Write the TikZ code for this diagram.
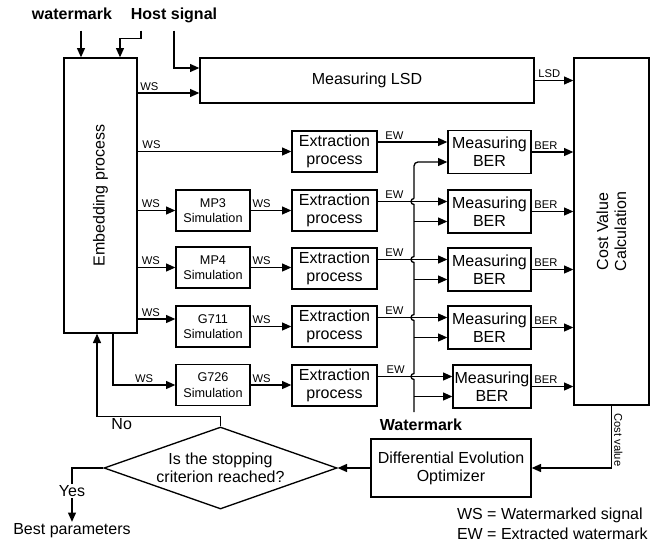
\documentclass[tikz,border=0pt]{standalone}
\usepackage{fontspec}
\setmainfont{Liberation Sans}
\usetikzlibrary{arrows.meta,shapes.geometric}

\tikzset{
	box/.style={draw, line width=1pt, align=center, inner sep=1pt, font=\fontsize{12}{13.5}\selectfont},
	simbox/.style={box, minimum width=55.5pt, minimum height=30.75pt, font=\fontsize{9.5}{11.5}\selectfont},
	extbox/.style={box, minimum width=63.75pt, minimum height=30.75pt},
	berbox/.style={box, minimum width=62.25pt, minimum height=32.25pt},
	lbl/.style={font=\fontsize{8.4}{9}\selectfont, inner sep=1.5pt},
	txt/.style={font=\fontsize{12}{13.5}\selectfont, inner sep=1pt},
	title/.style={font=\bfseries\fontsize{12}{14}\selectfont, inner sep=0pt, text depth=8.25pt}
}

\begin{document}
\begin{tikzpicture}[x=0.75pt, y=-0.75pt, line width=1pt, >={Triangle[length=7pt,width=6pt]}]
	\useasboundingbox (0,0) rectangle (665,544);

	\node[title, anchor=base] (wm) at (72,19) {watermark};
	\node[title, anchor=base] (host) at (174,19) {Host signal};

	\node[box, minimum width=54.75pt, minimum height=206.25pt, label={[rotate=90, txt]center:Embedding process}] (emb) at (100.5,195.5) {};
	\node[box, minimum width=250.5pt, minimum height=33.75pt] (lsd) at (367,80.5) {Measuring LSD};
	\node[box, minimum width=56.25pt, minimum height=260.25pt, label={[rotate=90, txt, align=center]center:{Cost Value\\Calculation}}] (cost) at (611.5,231.5) {};

	\node[extbox] (ext1) at (334.5,151.5) {Extraction\\process};
	\node[berbox] (ber1) at (489.5,152) {Measuring\\BER};

	\node[simbox] (sim2) at (213,210.5) {MP3\\Simulation};
	\node[extbox] (ext2) at (334.5,210.5) {Extraction\\process};
	\node[berbox] (ber2) at (489.5,211.5) {Measuring\\BER};

	\node[simbox] (sim3) at (213,267.5) {MP4\\Simulation};
	\node[extbox] (ext3) at (334.5,268.5) {Extraction\\process};
	\node[berbox] (ber3) at (489.5,269.5) {Measuring\\BER};

	\node[simbox] (sim4) at (213,326.5) {G711\\Simulation};
	\node[extbox] (ext4) at (334.5,326.5) {Extraction\\process};
	\node[berbox] (ber4) at (489.5,327.5) {Measuring\\BER};

	\node[simbox] (sim5) at (213,385) {G726\\Simulation};
	\node[extbox] (ext5) at (334.5,385.5) {Extraction\\process};
	\node[berbox, minimum width=58.5pt] (ber5) at (492,386.5) {Measuring\\BER};

	\node[title, text depth=0pt, anchor=base] (wmk) at (421,430) {Watermark};
	\node[box, minimum width=120pt, minimum height=43.5pt] (de) at (451,468) {Differential Evolution\\Optimizer};
	\node[draw, diamond, aspect=2.84, inner sep=0pt, minimum width=174.75pt, minimum height=61.5pt, align=center, font=\fontsize{12}{13.5}\selectfont] (stop) at (220.5,468) {Is the stopping\\criterion reached?};
	\node[txt] (best) at (72,531) {Best parameters};
	\node[txt, anchor=west, align=left, font=\fontsize{12}{15}\selectfont] (legend) at (455,524) {WS = Watermarked signal\\EW = Extracted watermark};

	\coordinate (lsdws) at ([yshift=-9.375pt]lsd.west);
	\coordinate (sim4in) at ([yshift=5.625pt]sim4.west);
	\coordinate (bus) at (414,412);
	\foreach \i in {1,...,5} {
		\coordinate (in\i) at ([yshift=7.5pt]ber\i.west);
		\coordinate (lo\i) at ([yshift=-7.5pt]ber\i.west);
		\coordinate (h\i) at (bus |- in\i);
	}

	\draw[->] ([xshift=6.75pt]wm.south) -- ([xshift=-14.625pt]emb.north);
	\draw[->] ([xshift=-24.75pt]host.south) -- ++(0,8) -| ([xshift=14.625pt]emb.north);
	\draw[->] (host.south) |- ([yshift=9.375pt]lsd.west);

	\draw[->] (emb.east |- lsdws) -- node[lbl, above, pos=0.19] {WS} (lsdws);
	\draw[->] (emb.east |- ext1.west) -- node[lbl, above, pos=0.09] {WS} (ext1.west);
	\draw[->] (emb.east |- sim2.west) -- node[lbl, above, pos=0.35] {WS} (sim2.west);
	\draw[->] (emb.east |- sim3.west) -- node[lbl, above, pos=0.35] {WS} (sim3.west);
	\draw[->] (emb.east |- sim4in) -- node[lbl, above, pos=0.35] {WS} (sim4in);
	\draw[->] ([xshift=9.375pt]emb.south) |- node[lbl, above, pos=0.75] {WS} (sim5.west);

	\foreach \i in {2,...,5}
		\draw[->] (sim\i.east) -- node[lbl, above, pos=0.27] {WS} (sim\i.east -| ext\i.west);

	\foreach \i in {1,...,5} {
		\draw[->] (ext\i.east |- in\i) -- node[lbl, above, pos=0.24] {EW} (in\i);
		\draw[->] (ber\i.east) -- node[lbl, above, pos=0.34] {BER} (ber\i.east -| cost.west);
	}
	\draw[->] (lsd.east) -- node[lbl, above, pos=0.38] {LSD} (lsd.east -| cost.west);

	\draw (bus) -- ([yshift=-2.25pt]h5) arc[start angle=270, end angle=90, radius=2.25pt]
		-- ([yshift=-2.25pt]h4) arc[start angle=270, end angle=90, radius=2.25pt]
		-- ([yshift=-2.25pt]h3) arc[start angle=270, end angle=90, radius=2.25pt]
		-- ([yshift=-2.25pt]h2) arc[start angle=270, end angle=90, radius=2.25pt];
	\draw[->, rounded corners=3pt] ([yshift=2.25pt]h2) |- (lo1);
	\foreach \i in {2,...,5}
		\draw[->] (bus |- lo\i) -- (lo\i);

	\draw[->] (cost.south) |- node[lbl, rotate=-90, anchor=south, pos=0.275] {Cost value} (de.east);
	\draw[->] (de.west) -- (stop.east);
	\draw[->] (stop.north) -- ++(0,-10) -| node[txt, below, pos=0.4] {No} ([xshift=-2.625pt]emb.south);
	\draw[->] (stop.west) -| node[txt, fill=white, pos=0.71] {Yes} (best.north);
\end{tikzpicture}
\end{document}
